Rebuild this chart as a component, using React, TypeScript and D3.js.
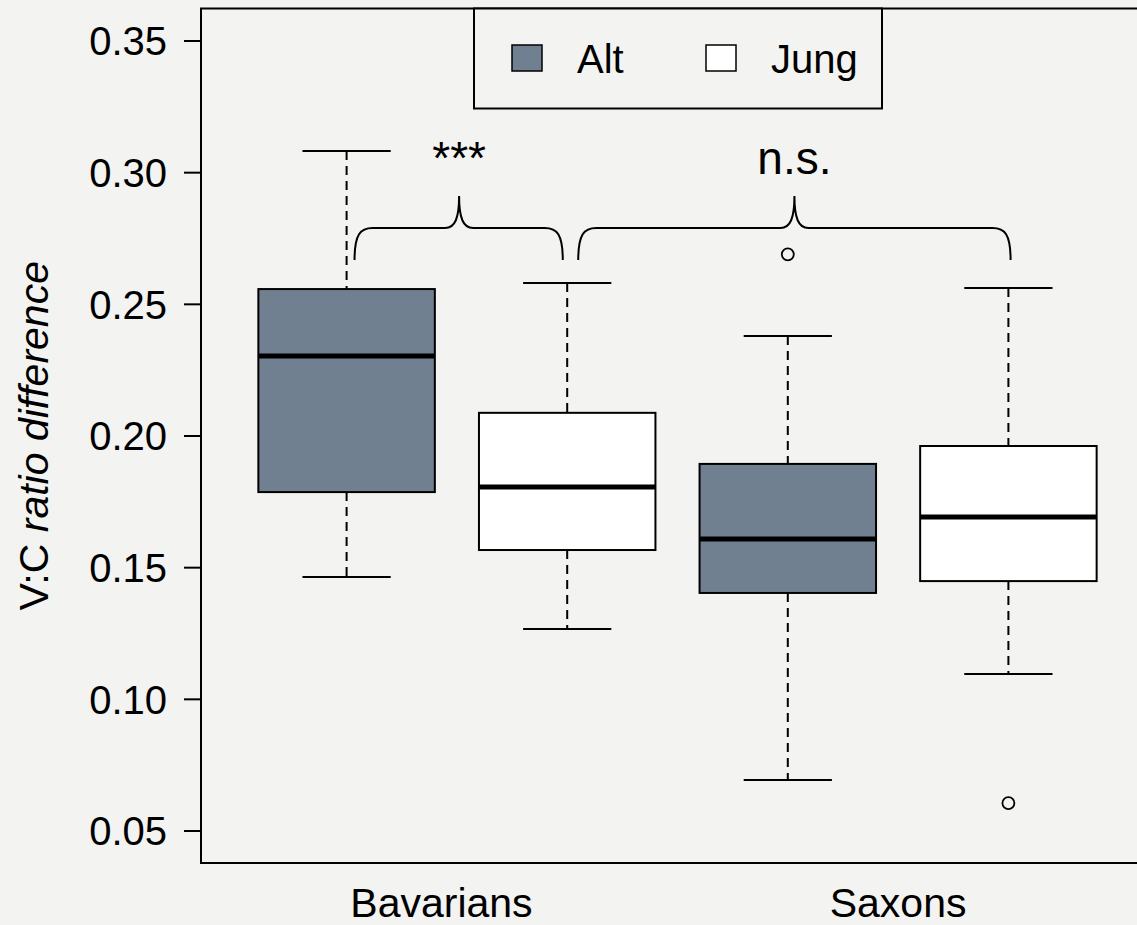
import React from "react";
import * as d3 from "d3";

const groups = ["Bavarians", "Saxons"];
const seriesNames = ["Alt", "Jung"];
const seriesFill = ["#708090", "#ffffff"];
// box order: Bav-Alt, Bav-Jung, Sax-Alt, Sax-Jung
const boxPos = [1, 2, 3, 4];
const boxSeries = [0, 1, 0, 1];
const whiskerLow = [0.1465, 0.1267, 0.0694, 0.1096];
const q1 = [0.1787, 0.1567, 0.1404, 0.1449];
const median = [0.2304, 0.1806, 0.1609, 0.1692];
const q3 = [0.2558, 0.2088, 0.1894, 0.1962];
const whiskerHigh = [0.3082, 0.2581, 0.238, 0.2562];
const outlierPos = [3, 4];
const outlierVal = [0.269, 0.0606];
const yTicks = [0.05, 0.1, 0.15, 0.2, 0.25, 0.3, 0.35];
const groupLabelPos = [1.43, 3.5];
const braceStart = [1.036, 2.05];
const braceEnd = [1.98, 4.01];
const braceTip = [1.51, 3.03];
const braceLabels = ["***", "n.s."];
const braceLow = 0.2668;
const braceMid = 0.279;
const braceTop = 0.2911;
const labelY = 0.2995;

const W = 1137;
const H = 925;
const FONT = "'Liberation Sans', Arial, Helvetica, sans-serif";

export default function App() {
  const x = d3.scaleLinear().domain([0.34, 4.66]).range([201, 1154]);
  const y = d3.scaleLinear().domain([0.35, 0.05]).range([41, 831]);
  const plotTop = 8.5;
  const plotBottom = 863;
  const boxW = 0.8;
  const capW = 0.4;

  const bracePath = (i: number) => {
    const x0 = x(braceStart[i]);
    const x1 = x(braceEnd[i]);
    const xt = x(braceTip[i]);
    const yl = y(braceLow);
    const ym = y(braceMid);
    const yt = y(braceTop);
    const r = 18;
    const rt = 14;
    return [
      `M${x0},${yl}`,
      `C${x0},${ym + 6} ${x0 + 6},${ym} ${x0 + r},${ym}`,
      `L${xt - rt},${ym}`,
      `C${xt - 4},${ym} ${xt},${ym - 10} ${xt},${yt}`,
      `C${xt},${ym - 10} ${xt + 4},${ym} ${xt + rt},${ym}`,
      `L${x1 - r},${ym}`,
      `C${x1 - 6},${ym} ${x1},${ym + 6} ${x1},${yl}`,
    ].join(" ");
  };

  return (
    <svg width={W} height={H} style={{ display: "block", position: "absolute", left: 0, top: 0 }}>
      <rect x={0} y={0} width={W} height={H} fill="#f3f3f1" />
      {/* frame */}
      <path
        d={`M${W + 10},${plotTop} L201,${plotTop} L201,${plotBottom} L${W + 10},${plotBottom}`}
        fill="none"
        stroke="#000"
        strokeWidth={2}
      />
      {/* y axis ticks */}
      {yTicks.map((t) => (
        <g key={t}>
          <line x1={184} x2={201} y1={y(t)} y2={y(t)} stroke="#000" strokeWidth={2} />
          <text
            x={167}
            y={y(t)}
            dy="0.36em"
            textAnchor="end"
            fontFamily={FONT}
            fontSize={40}
            fill="#000"
          >
            {t.toFixed(2)}
          </text>
        </g>
      ))}
      {/* y label */}
      <text
        transform={`translate(48,${(plotTop + plotBottom) / 2}) rotate(-90)`}
        textAnchor="middle"
        fontFamily={FONT}
        fontSize={41}
        fill="#000"
      >
        V:C <tspan fontStyle="italic">ratio difference</tspan>
      </text>
      {/* group labels */}
      {groups.map((g, i) => (
        <text
          key={g}
          x={x(groupLabelPos[i])}
          y={917}
          textAnchor="middle"
          fontFamily={FONT}
          fontSize={41}
          fill="#000"
        >
          {g}
        </text>
      ))}
      {/* boxes */}
      {boxPos.map((p, i) => {
        const cx = x(p);
        const bl = x(p - boxW / 2);
        const br = x(p + boxW / 2);
        const cl = x(p - capW / 2);
        const cr = x(p + capW / 2);
        return (
          <g key={i}>
            <line x1={cx} x2={cx} y1={y(whiskerHigh[i])} y2={y(q3[i])} stroke="#000" strokeWidth={2} strokeDasharray="9,6" />
            <line x1={cx} x2={cx} y1={y(q1[i])} y2={y(whiskerLow[i])} stroke="#000" strokeWidth={2} strokeDasharray="9,6" />
            <line x1={cl} x2={cr} y1={y(whiskerHigh[i])} y2={y(whiskerHigh[i])} stroke="#000" strokeWidth={2} />
            <line x1={cl} x2={cr} y1={y(whiskerLow[i])} y2={y(whiskerLow[i])} stroke="#000" strokeWidth={2} />
            <rect
              x={bl}
              y={y(q3[i])}
              width={br - bl}
              height={y(q1[i]) - y(q3[i])}
              fill={seriesFill[boxSeries[i]]}
              stroke="#000"
              strokeWidth={2}
            />
            <line x1={bl} x2={br} y1={y(median[i])} y2={y(median[i])} stroke="#000" strokeWidth={5} />
          </g>
        );
      })}
      {outlierPos.map((p, i) => (
        <circle key={i} cx={x(p)} cy={y(outlierVal[i])} r={6} fill="none" stroke="#000" strokeWidth={1.8} />
      ))}
      {/* braces */}
      {braceLabels.map((lab, i) => (
        <g key={lab}>
          <path d={bracePath(i)} fill="none" stroke="#000" strokeWidth={2} />
          <text
            x={x(braceTip[i])}
            y={y(labelY)}
            textAnchor="middle"
            fontFamily={FONT}
            fontSize={46}
            fill="#000"
          >
            {lab}
          </text>
        </g>
      ))}
      {/* legend */}
      <rect x={474} y={plotTop} width={408} height={100} fill="#f3f3f1" stroke="#000" strokeWidth={2} />
      {seriesNames.map((s, i) => (
        <g key={s}>
          <rect x={512 + i * 194} y={45} width={30} height={26} fill={seriesFill[i]} stroke="#000" strokeWidth={1.5} />
          <text x={577 + i * 194} y={73} fontFamily={FONT} fontSize={40} fill="#000">
            {s}
          </text>
        </g>
      ))}
    </svg>
  );
}
